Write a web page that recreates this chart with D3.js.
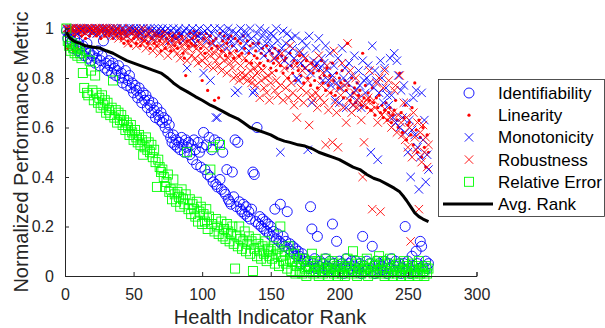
<!DOCTYPE html>
<html>
<head>
<meta charset="utf-8">
<script src="https://cdn.jsdelivr.net/npm/d3@7"></script>
<style>
 body { margin:0; background:#fff; }
 text { font-family: "Liberation Sans", Arial, sans-serif; }
</style>
</head>
<body>
<div id="chart"></div>
<script>
// values in hundredths, one per health indicator rank (1..265)
var identifiability = [
 99,96,98,94,95,92,96,93,91,94, 92,90,93,89,91,94,88,90,87,89,
 90,86,88,91,85,87,89,95,84,86, 83,87,85,82,86,84,81,83,85,80,
 82,78,80,83,77,79,81,76,78,74, 77,75,72,76,73,70,74,71,73,68,
 71,69,66,70,67,64,68,65,63,66, 62,64,60,63,58,61,56,54,57,53,
 55,52,54,51,56,53,50,55,52,54, 49,53,47,55,51,45,54,50,44,52,
 58,43,53,41,56,40,51,38,55,37, 36,54,39,35,50,34,33,43,31,30,
 29,42,32,55,28,54,30,27,26,29, 25,28,24,26,23,27,42,41,22,60,
 21,24,20,23,19,22,18,21,17,20, 16,18,27,15,17,14,29,13,16,12,
 14,26,11,13,10,12,9,11,8,10, 8,5,9,6,7,4,6,3,28,19,
 5,7,3,16,4,6,2,5,3,7, 4,2,6,3,21,5,2,14,4,6,
 3,5,1,4,7,2,5,3,6,2, 4,6,2,3,5,1,16,4,2,6,
 3,5,2,12,4,1,6,3,5,2, 4,2,6,3,1,5,3,7,2,4,
 6,2,4,5,1,3,5,20,2,6, 3,1,8,4,2,10,5,3,14,12,
 4,2,6,3,5];
var linearity = [
 100,92,98,93,99,91,97,99,92,98, 99,97,100,98,96,99,100,97,98,99,
 98,100,97,99,98,96,100,99,97,98, 99,97,98,100,96,98,99,97,100,98,
 96,99,94,98,97,95,99,93,98,96, 99,94,97,98,93,96,99,95,97,94,
 98,92,96,99,94,97,93,98,95,91, 97,99,92,96,94,98,91,95,97,93,
 96,92,98,94,97,90,88,81,95,93, 98,94,96,99,93,97,95,98,92,79,
 96,90,98,75,94,97,92,95,71,96, 93,72,98,91,95,97,89,94,96,90,
 97,93,88,96,91,95,89,94,90,97, 92,87,95,90,93,86,94,89,91,88,
 94,86,90,92,85,89,93,87,91,84, 90,86,92,83,88,91,85,89,82,87,
 88,84,80,90,85,82,87,79,86,83, 89,81,85,78,84,87,80,83,77,86,
 82,79,85,76,83,80,87,78,81,75, 84,77,81,74,86,79,73,82,76,80,
 78,83,72,79,75,94,77,71,80,74, 76,70,78,73,75,69,90,72,77,68,
 74,71,67,76,70,65,72,68,73,66, 69,64,67,70,63,66,68,62,65,67,
 71,63,60,82,66,58,64,69,55,61, 62,57,68,53,78,59,50,63,56,48,
 60,52,44,57,50];
var monotonicity = [
 100,99,100,98,100,100,99,100,98,100, 100,99,100,100,98,100,99,100,100,99,
 99,100,98,100,100,99,100,98,100,100, 100,99,100,97,100,99,100,100,98,99,
 100,98,100,99,97,100,99,100,98,100, 99,100,97,99,100,98,100,96,99,100,
 98,100,99,96,100,98,99,100,97,99, 100,97,99,98,100,95,99,97,100,98,
 96,99,100,97,98,95,99,100,84,97, 99,96,100,98,94,99,97,100,96,98,
 82,99,95,100,97,79,98,94,100,64, 64,97,100,93,99,96,98,92,100,97,
 95,99,93,74,98,75,96,100,92,97, 99,94,97,91,100,96,74,75,93,98,
 95,100,92,97,89,99,94,96,91,98, 93,97,88,100,95,90,50,92,99,87,
 94,98,90,85,96,92,88,97,80,79, 91,86,95,89,84,93,51,97,82,70,
 87,85,92,86,96,84,88,79,86,93, 83,79,90,77,81,85,71,78,88,70,
 76,92,80,84,68,78,86,73,81,69, 89,75,71,83,77,68,87,79,74,80,
 85,78,50,93,76,83,79,47,74,87, 80,70,84,76,73,69,88,73,64,90,
 62,87,81,60,75,64,77,58,70,50, 63,40,59,72,57,75,52,35,48,74,
 55,63,38,49,43];
var robustness = [
 100,100,99,100,100,100,98,100,100,99, 100,100,99,100,98,100,100,99,100,100,
 99,100,100,98,100,99,100,100,97,100, 100,98,100,99,100,97,99,100,96,99,
 98,100,96,99,97,94,100,98,95,99, 97,93,99,96,98,94,100,95,92,97,
 99,94,96,91,98,95,93,97,90,96, 94,98,92,95,89,97,93,96,91,94,
 97,90,95,88,93,96,91,94,87,92, 95,89,93,97,88,92,86,94,90,87,
 93,88,96,85,91,89,94,84,90,87, 92,85,89,83,91,87,94,82,88,86,
 90,84,80,87,81,89,79,85,82,80, 88,81,79,86,83,78,80,84,77,82,
 85,72,79,83,76,80,74,81,71,78, 82,88,75,79,73,86,77,90,71,84,
 76,80,72,93,78,74,69,85,64,72, 90,76,83,70,88,74,79,61,86,73,
 71,84,74,68,89,72,77,82,70,53, 85,67,74,79,54,91,70,66,52,76,
 73,86,68,77,62,94,71,83,66,69, 74,80,68,72,70,63,40,54,69,71,
 72,83,67,27,71,68,78,62,80,26, 65,76,83,67,63,79,64,60,66,75,
 77,58,65,81,62,57,70,55,64,52, 60,14,48,66,56,51,62,27,58,46,
 61,50,56,44,53];
var relativeError = [
 100,95,93,91,94,92,90,93,89,92, 90,88,82,76,91,74,73,87,83,75,
 71,81,74,70,72,68,73,69,71,66, 70,67,65,68,79,64,67,62,66,63,
 65,61,63,59,62,60,57,61,58,55, 59,56,54,57,53,55,49,52,56,51,
 54,50,53,48,51,46,36,47,44,42, 43,40,36,38,41,34,35,31,39,33,
 30,34,32,28,35,31,29,33,50,27, 31,25,29,27,24,30,22,26,28,21,
 25,22,27,19,24,43,21,52,18,23, 20,17,53,22,16,19,15,21,18,14,
 17,20,13,3,16,12,20,15,11,14, 18,10,13,16,9,14,2,11,15,8,
 13,10,7,12,9,14,6,11,8,10, 7,12,5,9,11,4,20,8,6,10,
 5,3,12,7,2,6,9,1,4,7, 2,5,1,7,3,0,4,2,6,9,
 1,4,2,6,0,3,5,1,2,7, 3,0,5,2,6,1,3,4,0,2,
 5,1,3,0,4,7,2,3,1,10, 2,5,0,3,6,1,4,2,3,7,
 0,3,2,5,1,4,2,6,8,1, 3,6,0,2,5,1,7,3,0,2,
 4,1,5,2,0,3,6,2,4,1, 0,3,5,1,2,4,0,6,1,3,
 2,0,4,1,3];
// average rank curve, read at these ranks
var avgRankAt = [1,3,5,8,11,15,20,26,30,35,40,45,50,55,60,65,70,75,79,84,89,95,100,106,110,115,120,126,130,135,140,145,150,155,160,164,170,175,180,185,190,195,200,205,210,215,220,225,230,235,240,244,247,249,252,255,258,261,265];
var avgRank = [98.5,96.5,95.5,94.5,94,93,92.5,92,91,90,88.5,87,86,85,84,83,82,80,78,76,74.5,72.5,71,69,68,66.5,65,63.5,62,60,59,58,57,55.5,54.5,54,53,52.5,51.5,50,49,48,47,45.5,44,43,41,39.5,38.5,37,35.5,34,32,30.5,28,25.5,24,23,22];
var xTicks = [0,50,100,150,200,250,300];
var yTicks = [0,0.2,0.4,0.6,0.8,1];
var legendLabels = ["Identifiability","Linearity","Monotonicity","Robustness","Relative Error","Avg. Rank"];

var W = 605, H = 328;
var axisColor = "#262626";
var svg = d3.select("#chart").append("svg")
    .attr("width", W).attr("height", H);

var x = d3.scaleLinear().domain([0,300]).range([65,476.5]);
var y = d3.scaleLinear().domain([0,1]).range([276,28.5]);
var ranks = d3.range(1, identifiability.length + 1);

function pts(arr) { return arr.map(function(v,i){ return {r: ranks[i], v: v/100}; }); }

var plot = svg.append("g");

// identifiability - blue circles
plot.append("g").selectAll("circle").data(pts(identifiability)).enter()
  .append("circle")
  .attr("cx", function(d){ return x(d.r); })
  .attr("cy", function(d){ return y(d.v); })
  .attr("r", 5)
  .attr("fill","none").attr("stroke","#0000ff").attr("stroke-width",0.9);

// linearity - red dots
plot.append("g").selectAll("circle").data(pts(linearity)).enter()
  .append("circle")
  .attr("cx", function(d){ return x(d.r); })
  .attr("cy", function(d){ return y(d.v); })
  .attr("r", 1.6)
  .attr("fill","#ff0000");

function crossPath(d) {
  var cx = x(d.r), cy = y(d.v), s = 4.2;
  return "M"+(cx-s)+","+(cy-s)+"L"+(cx+s)+","+(cy+s)+"M"+(cx-s)+","+(cy+s)+"L"+(cx+s)+","+(cy-s);
}
// monotonicity - blue x
plot.append("g").selectAll("path").data(pts(monotonicity)).enter()
  .append("path").attr("d", crossPath)
  .attr("stroke","#0000ff").attr("stroke-width",0.9).attr("fill","none");
// robustness - red x
plot.append("g").selectAll("path").data(pts(robustness)).enter()
  .append("path").attr("d", crossPath)
  .attr("stroke","#ff0000").attr("stroke-width",0.9).attr("fill","none");
// relative error - green squares
plot.append("g").selectAll("rect").data(pts(relativeError)).enter()
  .append("rect")
  .attr("x", function(d){ return x(d.r)-4.5; })
  .attr("y", function(d){ return y(d.v)-4.5; })
  .attr("width",9).attr("height",9)
  .attr("fill","none").attr("stroke","#00ff00").attr("stroke-width",0.9);

// avg rank line
var line = d3.line()
  .x(function(d,i){ return x(avgRankAt[i]); })
  .y(function(d){ return y(d/100); });
plot.append("path").datum(avgRank)
  .attr("d", line)
  .attr("fill","none").attr("stroke","#000").attr("stroke-width",3)
  .attr("stroke-linejoin","round");

// axes (ticks inside, MATLAB-like)
var xAxis = svg.append("g").attr("transform","translate(0,276)")
  .call(d3.axisBottom(x).tickValues(xTicks).tickSize(-4).tickPadding(13).tickFormat(d3.format("d")));
var yAxis = svg.append("g").attr("transform","translate(65,0)")
  .call(d3.axisLeft(y).tickValues(yTicks).tickSize(-4).tickPadding(11).tickFormat(function(d){ return d===0||d===1 ? d : d3.format(".1f")(d); }));
[xAxis, yAxis].forEach(function(a){
  a.select(".domain").attr("stroke",axisColor).attr("stroke-width",1);
  a.selectAll(".tick line").attr("stroke",axisColor);
  a.selectAll(".tick text").attr("fill",axisColor).style("font-size","16px")
    .style("font-family","'Liberation Sans', Arial, sans-serif");
});

svg.append("text").attr("x", 270).attr("y", 324)
  .attr("text-anchor","middle").attr("fill",axisColor)
  .style("font-size","20px").text("Health Indicator Rank");
svg.append("text")
  .attr("transform","translate(28,152) rotate(-90)")
  .attr("text-anchor","middle").attr("fill",axisColor)
  .style("font-size","20px").text("Normalized Performance Metric");

// legend
var lg = svg.append("g").attr("transform","translate(438,79)");
lg.append("rect").attr("x",0.5).attr("y",0.5).attr("width",166).attr("height",137)
  .attr("fill","#fff").attr("stroke",axisColor).attr("stroke-width",0.8);
var rowY = d3.scaleLinear().domain([0,5]).range([14,125]);
var mx = 31;
lg.selectAll("text.lab").data(legendLabels).enter()
  .append("text").attr("class","lab")
  .attr("x",60).attr("y", function(d,i){ return rowY(i); })
  .attr("dy","0.35em").attr("fill","#000")
  .style("font-size","17px").text(function(d){ return d; });
lg.append("circle").attr("cx",mx).attr("cy",rowY(0)).attr("r",5)
  .attr("fill","none").attr("stroke","#0000ff").attr("stroke-width",0.9);
lg.append("circle").attr("cx",mx).attr("cy",rowY(1)).attr("r",1.6).attr("fill","#ff0000");
[[2,"#0000ff"],[3,"#ff0000"]].forEach(function(p){
  var cy = rowY(p[0]), s = 4.2;
  lg.append("path").attr("d","M"+(mx-s)+","+(cy-s)+"L"+(mx+s)+","+(cy+s)+"M"+(mx-s)+","+(cy+s)+"L"+(mx+s)+","+(cy-s))
    .attr("stroke",p[1]).attr("stroke-width",0.9);
});
lg.append("rect").attr("x",mx-4.5).attr("y",rowY(4)-4.5).attr("width",9).attr("height",9)
  .attr("fill","none").attr("stroke","#00ff00").attr("stroke-width",0.9);
lg.append("line").attr("x1",5).attr("x2",55).attr("y1",rowY(5)).attr("y2",rowY(5))
  .attr("stroke","#000").attr("stroke-width",3);
</script>
</body>
</html>
